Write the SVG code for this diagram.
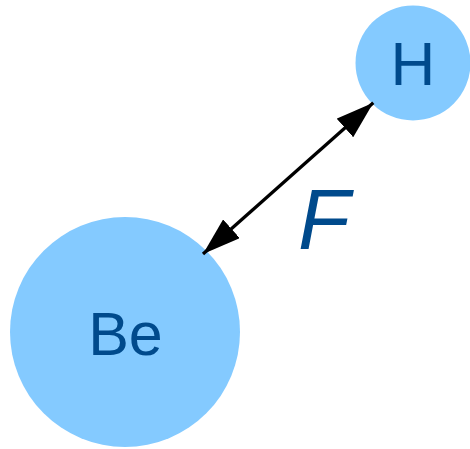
<svg xmlns="http://www.w3.org/2000/svg" width="470" height="449" viewBox="0 0 470 449">
<defs>
<style>
.atom{fill:#84CAFF;}
.lbl{font-family:"Liberation Sans",Arial,sans-serif;fill:#004A8C;text-anchor:middle;}
.conn{stroke:#000;stroke-width:3.3;fill:none;}
</style>
<marker id="ah" viewBox="0 0 38 25" refX="38" refY="12.5" markerWidth="38" markerHeight="25" markerUnits="userSpaceOnUse" orient="auto-start-reverse">
<path d="M0,0 L38,12.5 L0,25 Z" fill="#000"/>
</marker>
</defs>
<g id="node-H">
<circle class="atom" cx="413" cy="63" r="57.5"/>
<text class="lbl" x="413" y="85" font-size="62">H</text>
</g>
<g id="node-Be">
<circle class="atom" cx="125" cy="332" r="115"/>
<text class="lbl" x="125.5" y="355" font-size="61">Be</text>
</g>
<g id="connectors">
<line class="conn" x1="203" y1="254" x2="373.3" y2="102.7" marker-start="url(#ah)" marker-end="url(#ah)"/>
</g>
<g id="label-F">
<text class="lbl" x="324" y="249" font-size="85" font-style="italic">F</text>
</g>
</svg>
